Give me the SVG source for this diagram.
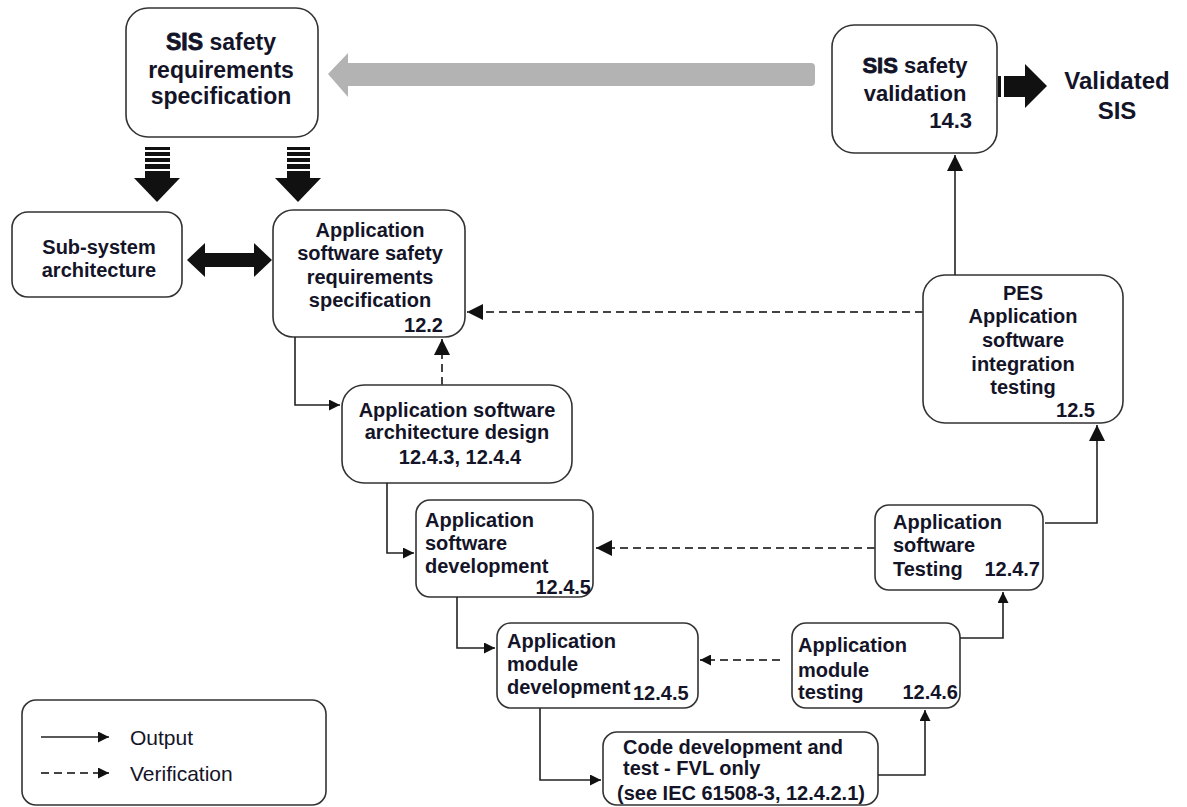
<svg xmlns="http://www.w3.org/2000/svg" width="1187" height="807" viewBox="0 0 1187 807">
<style>
.box{fill:#fff;stroke:#333;stroke-width:1.6}
.t{font-family:"Liberation Sans",Arial,sans-serif;font-weight:bold;font-size:20px;fill:#141428}
.c{text-anchor:middle}
.r{text-anchor:end}
.heavy{stroke:#141428;stroke-width:0.8}
.ln{fill:none;stroke:#222;stroke-width:1.6}
.ds{fill:none;stroke:#444;stroke-width:2;stroke-dasharray:8 5}
.leg{font-family:"Liberation Sans",Arial,sans-serif;font-size:21px;fill:#141428}
</style>
<defs>
<marker id="ah" viewBox="0 0 10 10" refX="10" refY="5" markerWidth="12" markerHeight="11" markerUnits="userSpaceOnUse" orient="auto"><path d="M0,0 L10,5 L0,10 z" fill="#111"/></marker>
<marker id="ahd" viewBox="0 0 10 10" refX="10" refY="5" markerWidth="16" markerHeight="16" markerUnits="userSpaceOnUse" orient="auto"><path d="M0,0 L10,5 L0,10 z" fill="#111"/></marker>
</defs>

<g id="bigarrows">
<path d="M328,74 L348,53 L348,63 L811,63 Q815,63 815,67 L815,82 Q815,86 811,86 L348,86 L348,97 Z" fill="#b3b3b3"/>
<g fill="#111">
<rect x="145" y="147" width="25" height="3"/><rect x="145" y="152" width="25" height="4"/><rect x="145" y="158" width="25" height="4"/><rect x="145" y="164" width="25" height="5"/><rect x="145" y="171" width="25" height="8"/>
<path d="M134,178 L180,178 L157,202 Z"/>
<rect x="287" y="147" width="23" height="3"/><rect x="287" y="152" width="23" height="4"/><rect x="287" y="158" width="23" height="4"/><rect x="287" y="164" width="23" height="5"/><rect x="287" y="171" width="23" height="8"/>
<path d="M275,178 L321,178 L298,202 Z"/>
<path d="M187,260 L205,243 L205,253 L254,253 L254,243 L272,260 L254,277 L254,267 L205,267 L205,277 Z"/>
<rect x="998" y="76" width="3" height="21"/>
<path d="M1004,76 L1025,76 L1025,64 L1047,86 L1025,108 L1025,97 L1004,97 Z"/>
</g>
<text class="t c" x="1117" y="89" style="font-size:24px">Validated</text>
<text class="t c" x="1117" y="119" style="font-size:24px">SIS</text>
</g>

<g id="n-sisreq">
<rect class="box" x="126" y="8" width="192" height="129" rx="22"/>
<text class="t c" x="221" y="50" style="font-size:23px"><tspan class="heavy">SIS</tspan> safety</text>
<text class="t c" x="221" y="78" style="font-size:23px">requirements</text>
<text class="t c" x="221" y="104" style="font-size:23px">specification</text>
</g>

<g id="n-sisval">
<rect class="box" x="832" y="25" width="165" height="128" rx="22"/>
<text class="t c" x="915" y="73" style="font-size:22px"><tspan class="heavy">SIS</tspan> safety</text>
<text class="t c" x="915" y="101" style="font-size:22px">validation</text>
<text class="t r" x="972" y="128" style="font-size:22px">14.3</text>
</g>

<g id="n-subsys">
<rect class="box" x="12" y="212" width="170" height="85" rx="16"/>
<text class="t c" x="99" y="254">Sub-system</text>
<text class="t c" x="99" y="277">architecture</text>
</g>

<g id="n-assrs">
<rect class="box" x="273" y="210" width="192" height="127" rx="20"/>
<text class="t c" x="370" y="237">Application</text>
<text class="t c" x="370" y="260">software safety</text>
<text class="t c" x="370" y="284">requirements</text>
<text class="t c" x="370" y="307">specification</text>
<text class="t r" x="443" y="332">12.2</text>
</g>

<g id="n-arch">
<rect class="box" x="342" y="385" width="230" height="98" rx="22"/>
<text class="t c" x="457" y="417">Application software</text>
<text class="t c" x="457" y="439">architecture design</text>
<text class="t c" x="460" y="464">12.4.3, 12.4.4</text>
</g>

<g id="n-swdev">
<rect class="box" x="416" y="500" width="177" height="97" rx="14"/>
<text class="t" x="425" y="527">Application</text>
<text class="t" x="425" y="550">software</text>
<text class="t" x="425" y="573">development</text>
<text class="t r" x="591" y="594">12.4.5</text>
</g>

<g id="n-swtest">
<rect class="box" x="875" y="505" width="168" height="85" rx="14"/>
<text class="t" x="893" y="529">Application</text>
<text class="t" x="893" y="552">software</text>
<text class="t" x="893" y="576">Testing</text>
<text class="t r" x="1040" y="576">12.4.7</text>
</g>

<g id="n-pes">
<rect class="box" x="923" y="275" width="200" height="148" rx="22"/>
<text class="t c" x="1023" y="300">PES</text>
<text class="t c" x="1023" y="323">Application</text>
<text class="t c" x="1023" y="347">software</text>
<text class="t c" x="1023" y="371">integration</text>
<text class="t c" x="1023" y="394">testing</text>
<text class="t r" x="1095" y="417">12.5</text>
</g>

<g id="n-moddev">
<rect class="box" x="497" y="623" width="201" height="85" rx="14"/>
<text class="t" x="507" y="648">Application</text>
<text class="t" x="507" y="671">module</text>
<text class="t" x="507" y="694">development</text>
<text class="t" x="633" y="700">12.4.5</text>
</g>

<g id="n-modtest">
<rect class="box" x="792" y="623" width="168" height="85" rx="14"/>
<text class="t" x="798" y="652">Application</text>
<text class="t" x="798" y="677">module</text>
<text class="t" x="798" y="699">testing</text>
<text class="t r" x="958" y="699">12.4.6</text>
</g>

<g id="n-code">
<rect class="box" x="603" y="732" width="275" height="73" rx="14"/>
<text class="t" x="623" y="754">Code development and</text>
<text class="t" x="623" y="775">test - FVL only</text>
<text class="t" x="617" y="800">(see IEC 61508-3, 12.4.2.1)</text>
</g>

<g id="legend">
<rect class="box" x="22" y="700" width="304" height="105" rx="14"/>
<line class="ln" x1="41" y1="737" x2="109" y2="737" marker-end="url(#ah)"/>
<line class="ds" x1="41" y1="773" x2="109" y2="773" stroke-dasharray="5 3" stroke-width="1.6" marker-end="url(#ah)"/>
<text class="leg" x="130" y="745">Output</text>
<text class="leg" x="130" y="781">Verification</text>
</g>

<g id="connectors">
<path class="ln" d="M295,337 L295,405 L340,405" marker-end="url(#ah)"/>
<path class="ln" d="M387,483 L387,553 L414,553" marker-end="url(#ah)"/>
<path class="ln" d="M457,597 L457,648 L495,648" marker-end="url(#ah)"/>
<path class="ln" d="M540,708 L540,780 L601,780" marker-end="url(#ah)"/>
<path class="ln" d="M878,775 L925,775 L925,710" marker-end="url(#ah)"/>
<path class="ln" d="M960,638 L1003,638 L1003,592" marker-end="url(#ah)"/>
<path class="ln" d="M1045,523 L1097,523 L1097,425" marker-end="url(#ahd)"/>
<path class="ln" d="M955,275 L955,155" marker-end="url(#ahd)"/>
<path class="ds" d="M442,385 L442,339" marker-end="url(#ahd)"/>
<path class="ds" d="M923,312 L467,312" marker-end="url(#ahd)"/>
<path class="ds" d="M875,548 L596,548" marker-end="url(#ahd)"/>
<path class="ds" d="M780,660 L700,660" marker-end="url(#ah)"/>
</g>
</svg>
